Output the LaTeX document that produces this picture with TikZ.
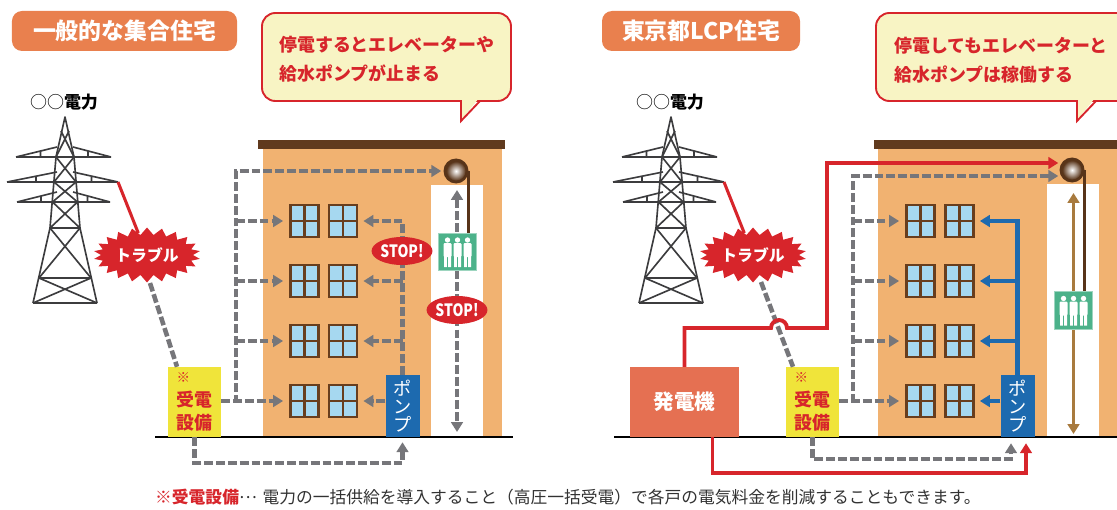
\documentclass[tikz,border=0pt]{standalone}
\usepackage{fontspec}
\setmainfont{Noto Sans CJK JP}
\usepackage{graphicx}
\usetikzlibrary{arrows.meta, positioning, shapes.geometric, shapes.symbols, calc}

\definecolor{titleorange}{RGB}{233,128,78}
\definecolor{bubblecream}{RGB}{248,244,196}
\definecolor{alertred}{RGB}{215,37,43}
\definecolor{wallorange}{RGB}{241,178,113}
\definecolor{roofbrown}{RGB}{96,58,30}
\definecolor{framebrown}{RGB}{104,62,30}
\definecolor{glassblue}{RGB}{166,216,240}
\definecolor{flowgray}{RGB}{118,118,122}
\definecolor{pumpblue}{RGB}{29,106,175}
\definecolor{cargreen}{RGB}{76,178,138}
\definecolor{boxyellow}{RGB}{240,228,58}
\definecolor{genred}{RGB}{229,112,82}
\definecolor{liftbrown}{RGB}{168,122,62}
\definecolor{ropebrown}{RGB}{88,52,25}
\definecolor{towergray}{RGB}{60,60,62}
\definecolor{notegray}{RGB}{50,50,50}

\tikzset{
  pylon/.pic={
    \draw[tower] (-32,186) -- (-15,111) -- (-9,40) -- (0,0) -- (9,40) -- (15,111) -- (32,186);
    \foreach \ya/\wa/\yb/\wb in {14/4/40/9, 40/9/65/11, 65/11/85/12.5, 85/12.5/111/15, 111/15/161/26, 161/26/186/32}
      \draw[tower] (-\wa,\ya) -- (\wb,\yb) (\wa,\ya) -- (-\wb,\yb) (-\wb,\yb) -- (\wb,\yb);
    \foreach \y/\l/\r in {40/49/46, 65/58/53, 85/48/45}
      \draw[tower] (-\l,\y) -- (\r,\y) (-\l,\y) -- (-8,\y-10) (\r,\y) -- (8,\y-10)
                   (-\l/2,\y-6) -- (-\l/2,\y) (\r/2,\y-6) -- (\r/2,\y);
  }
}

\begin{document}
\begin{tikzpicture}[
    x=0.03cm, y=-0.03cm,
    pill/.style={fill=titleorange, rounded corners=0.3cm, text=white, inner sep=0pt,
                 minimum height=1.2cm, font=\fontsize{19.5}{22}\selectfont\bfseries},
    bubble/.style={draw=alertred, line width=1.6pt, fill=bubblecream},
    msg/.style={text=alertred, align=left, anchor=west, inner sep=0pt,
                font=\fontsize{15.3}{24.6}\selectfont\bfseries},
    tower/.style={draw=towergray, line width=1.4pt, line join=round},
    burst/.style={starburst, fill=alertred, starburst points=22, starburst point height=0.22cm,
                  random starburst=0, minimum width=3.2cm, minimum height=1.65cm, inner sep=0pt,
                  text=white, font=\fontsize{13.5}{14}\selectfont\bfseries},
    window/.style={draw=framebrown, line width=2.4pt, fill=glassblue, inner sep=0pt,
                   minimum width=0.84cm, minimum height=0.96cm,
                   path picture={\draw[framebrown, line width=2.2pt]
                     (path picture bounding box.north) -- (path picture bounding box.south)
                     (path picture bounding box.west) -- (path picture bounding box.east);}},
    pump/.style={fill=pumpblue, text=white, inner sep=0pt, minimum width=1.02cm,
                 minimum height=1.86cm, align=center, font=\fontsize{15.5}{15.3}\selectfont},
    jyuden/.style={fill=boxyellow, text=alertred, inner sep=0pt, minimum width=1.59cm,
                   minimum height=2.1cm, align=left, font=\fontsize{15.3}{20}\selectfont\bfseries},
    gen/.style={fill=genred, text=white, inner sep=0pt, minimum width=3.27cm,
                minimum height=2.1cm, font=\fontsize{17.6}{18}\selectfont\bfseries},
    pulley/.style={circle, fill=ropebrown, minimum size=0.75cm, inner sep=0pt},
    car/.style={fill=cargreen, draw=cargreen!55!white, line width=0.8pt, inner sep=0pt,
                minimum width=1.15cm, minimum height=1.12cm},
    stop/.style={ellipse, fill=alertred, text=white, inner sep=0pt, minimum width=1.65cm,
                 minimum height=0.84cm, font=\fontsize{14.5}{14}\selectfont\bfseries},
    flow/.style={draw=flowgray, line width=3.9pt, dash pattern=on 7.5pt off 2.6pt},
    feed/.style={draw=alertred, line width=3.3pt},
    water/.style={draw=pumpblue, line width=4pt},
    lift/.style={draw=liftbrown, line width=3.3pt},
    cable/.style={draw=ropebrown, line width=2.5pt},
    ground/.style={draw=black, line width=2pt},
    arr/.style={-{Triangle[length=8.5pt, width=10pt]}},
    dbl/.style={{Triangle[length=8.5pt, width=10pt]}-{Triangle[length=8.5pt, width=10pt]}}
  ]
  \clip (0,0) rectangle (1117,510);

  \node[pill, minimum width=6.75cm] (ttlL) at (124.5,31) {一般的な集合住宅};
  \node[pill, minimum width=5.94cm] (ttlR) at (701,31) {東京都LCP住宅};

  \draw[bubble, rounded corners=0.4cm] (262,13) rectangle (511,101);
  \fill[bubblecream] (462,98) -- (479,98) -- (462,119) -- cycle;
  \draw[bubble, fill=none, line join=miter] (480,101) -- (461,121) -- (461,101);
  \node[msg] (msgL) at (279,59.5) {停電するとエレベーターや\\給水ポンプが止まる};

  \draw[bubble, rounded corners=0.4cm] (876,13) rectangle (1140,101);
  \fill[bubblecream] (1078,98) -- (1095,98) -- (1078,119) -- cycle;
  \draw[bubble, fill=none, line join=miter] (1096,101) -- (1077,121) -- (1077,101);
  \node[msg] (msgR) at (894,60.5) {停電してもエレベーターと\\給水ポンプは稼働する};

  \node[font=\fontsize{14.5}{16}\selectfont] (coL) at (64,102) {○○\textbf{電力}};
  \node[font=\fontsize{14.5}{16}\selectfont] (coR) at (670,102) {○○\textbf{電力}};
  \pic at (65,117) {pylon};
  \pic at (671,117) {pylon};

  % buildings
  \fill[wallorange] (263,149) rectangle (502,437);
  \fill[roofbrown] (258,140) rectangle (505,149);
  \fill[white] (431,185) rectangle (483,437);
  \fill[wallorange] (878,149) rectangle (1120,437);
  \fill[roofbrown] (874,140) rectangle (1120,149);
  \fill[white] (1047,184) rectangle (1099,437);
  \draw[ground] (155,437) -- (513,437);
  \draw[ground] (614,437) -- (1117,437);

  \foreach \r/\y in {1/221, 2/281, 3/341, 4/401} {
    \node[window] (wL\r1) at (304.5,\y) {};
    \node[window] (wL\r2) at (343,\y) {};
    \node[window] (wR\r1) at (920.5,\y) {};
    \node[window] (wR\r2) at (959.5,\y) {};
  }

  \node[pump] (pmpL) at (402.5,406) {ポ\\ン\\プ};
  \node[pump] (pmpR) at (1017.5,406) {ポ\\ン\\プ};
  \node[jyuden] (jdL) at (194.5,402) {{\fontsize{11.5}{12}\selectfont ※}\\受電\\設備};
  \node[jyuden] (jdR) at (812.5,402) {{\fontsize{11.5}{12}\selectfont ※}\\受電\\設備};
  \node[gen] (genR) at (684.5,402) {発電機};

  \node[pulley] (pulL) at (456,171) {};
  \shade[inner color=white, outer color=ropebrown] (pulL.center) circle[radius=0.29cm];
  \node[pulley] (pulR) at (1072,170) {};
  \shade[inner color=white, outer color=ropebrown] (pulR.center) circle[radius=0.29cm];

  \node[burst] (trbL) at (147,255) {トラブル};
  \node[burst] (trbR) at (753,255) {トラブル};
  \coordinate (armL) at (118,182);
  \coordinate (armR) at (724,182);
  \draw[feed, line width=2.6pt] (armL) -- (trbL);
  \draw[feed, line width=2.6pt] (armR) -- (trbR);
  \draw[flow] ($(trbL.center)+(3,28)$) -- ($(jdL.north)+(-17.5,0)$);
  \draw[flow] ($(trbR.center)+(8,27)$) -- ($(jdR.north)+(-19.5,0)$);

  % power and water, ordinary building
  \coordinate (busL) at (236,171);
  \coordinate (lowL) at (300,463);
  \coordinate (shTopL) at (457,190);
  \coordinate (shBotL) at (457,432);
  \draw[flow, arr, shorten >=0.06cm] (jdL.east |- wL41) -| (busL) -- (pulL);
  \foreach \r in {1,2,3}
    \draw[flow, arr, shorten >=0.18cm] (busL |- wL\r1) -- (wL\r1);
  \draw[flow, arr, shorten >=0.18cm] (jdL.east |- wL41) -- (wL41);
  \draw[flow, arr, shorten >=0.15cm] (pmpL.north) |- (wL12);
  \foreach \r in {2,3}
    \draw[flow, arr, shorten >=0.15cm] (pmpL.north |- wL\r2) -- (wL\r2);
  \draw[flow, arr, shorten >=0.15cm] (pmpL.west |- wL42) -- (wL42);
  \draw[flow, arr, shorten >=0.15cm] (jdL.south) |- (lowL) -| (pmpL.south);
  \draw[flow, dbl] (shTopL) -- (shBotL);

  % power and water, LCP building
  \coordinate (busR) at (853,176);
  \coordinate (lowR) at (900,459);
  \coordinate (redLowR) at (900,473);
  \coordinate (hopR) at (779,328);
  \coordinate (riseR) at (827,163);
  \coordinate (shTopR) at (1073.5,193);
  \coordinate (shBotR) at (1073.5,434);
  \draw[flow, arr] (jdR.east |- wR41) -| (busR) -- ($(pulR.west)+(-1,6)$);
  \foreach \r in {1,2,3}
    \draw[flow, arr, shorten >=0.18cm] (busR |- wR\r1) -- (wR\r1);
  \draw[flow, arr, shorten >=0.18cm] (jdR.east |- wR41) -- (wR41);
  \draw[flow, arr, shorten >=0.18cm] (jdR.south) |- (lowR) -| ($(pmpR.south)+(-6.5,0)$);
  \draw[feed, arr] (genR.north) |- ($(hopR)+(-8,0)$) arc[start angle=180, end angle=0, radius=0.24cm]
    -| (riseR) -- ($(pulR.west)+(-1,-7)$);
  \draw[feed, arr, shorten >=0.18cm] ($(genR.south)+(28,0)$) |- (redLowR) -| ($(pmpR.south)+(8.5,0)$);
  \draw[water, arr, shorten >=0.15cm] (pmpR.north) |- (wR12);
  \foreach \r in {2,3}
    \draw[water, arr, shorten >=0.15cm] (pmpR.north |- wR\r2) -- (wR\r2);
  \draw[water, arr, shorten >=0.15cm] (pmpR.west |- wR42) -- (wR42);
  \draw[lift, dbl] (shTopR) -- (shBotR);

  % cars and stop marks
  \node[car] (carL) at (457.5,252) {};
  \node[car] (carR) at (1073.5,310.5) {};
  \foreach \c in {carL, carR} {
    \begin{scope}[shift={(\c.center)}]
      \foreach \dx in {-10,0,10} {
        \fill[white] (\dx,-12) circle[radius=0.08cm];
        \fill[white, rounded corners=1pt] (\dx-4,-9) rectangle (\dx+4,5);
        \fill[white] (\dx-3.5,4) rectangle (\dx-0.6,15) (\dx+0.6,4) rectangle (\dx+3.5,15);
      }
    \end{scope}
  }
  \draw[cable] (pulL.east) -- (pulL.east |- carL.north);
  \draw[cable] (pulR.east) -- (pulR.east |- carR.north);
  \node[stop] (stpL1) at (402,251) {\scalebox{0.82}[1]{STOP!}};
  \node[stop] (stpL2) at (457,310) {\scalebox{0.82}[1]{STOP!}};

  \node[anchor=west, inner sep=0pt, text=notegray, font=\fontsize{14.3}{16}\selectfont] (note) at (155,497)
    {\textcolor{alertred}{\bfseries ※受電設備}\raisebox{0.3em}{…}\hspace{0.35em}電力の一括供給を導入すること（高圧一括受電）で各戸の電気料金を削減することもできます。};
\end{tikzpicture}
\end{document}
